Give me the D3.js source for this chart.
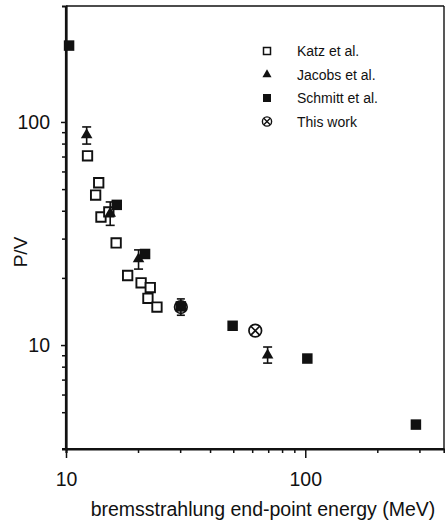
<!DOCTYPE html>
<html>
<head>
<meta charset="utf-8">
<script src="https://cdn.jsdelivr.net/npm/d3@7"></script>
<style>
  html, body { margin: 0; padding: 0; background: #fff; }
  svg { display: block; }
  text { font-family: "Liberation Sans", Arial, Helvetica, sans-serif; fill: #111; }
</style>
</head>
<body>
<svg id="chart" width="445" height="524"></svg>
<script>
// P/V ratio versus bremsstrahlung end-point energy (MeV)
const katzE   = [12.3, 13.7, 13.3, 14.0, 15.1, 16.2, 18.1, 20.6, 22.5, 22.0, 24.0];
const katzPV  = [70.5, 53.4, 47.0, 37.5, 39.5, 28.7, 20.5, 19.0, 18.1, 16.2, 14.8];

const jacobsE   = [12.2, 15.3, 20.1, 69.6];
const jacobsPV  = [87.4, 38.9, 24.3, 9.0];
const jacobsLo  = [79.6, 34.4, 21.9, 8.3];
const jacobsHi  = [95.0, 43.8, 26.7, 9.8];

const schmittE  = [10.3, 16.3, 21.4, 30.2, 49.7, 102, 290];
const schmittPV = [220, 42.5, 25.6, 14.9, 12.2, 8.7, 4.4];

const thisE   = [30.2, 61.8];
const thisPV  = [14.8, 11.6];
const thisLo  = [13.6, 11.6];
const thisHi  = [16.1, 11.6];

const legendLabels = ["Katz et al.", "Jacobs et al.", "Schmitt et al.", "This work"];
const xTickLabels = [10, 100];
const yTickLabels = [10, 100];
const xMinorTicks = [20, 30, 40, 50, 60, 70, 80, 90, 200, 300];
const yMinorTicks = [5, 6, 7, 8, 9, 20, 30, 40, 50, 60, 70, 80, 90];

const svg = d3.select("#chart");
const L = 66, R = 444, T = 6, B = 449;

const x = d3.scaleLog().domain([10, 380]).range([L, R]);
const y = d3.scaleLog().domain([3.42, 331]).range([B, T]);

// frame: top and right edges
svg.append("line").attr("x1", L).attr("x2", R).attr("y1", T).attr("y2", T)
  .attr("stroke", "#111").attr("stroke-width", 1.6);
svg.append("line").attr("x1", R).attr("x2", R).attr("y1", T).attr("y2", B)
  .attr("stroke", "#111").attr("stroke-width", 1.4);

const xAxisMinor = d3.axisBottom(x).tickValues(xMinorTicks).tickSize(4).tickFormat("");
const xAxisMajor = d3.axisBottom(x).tickValues(xTickLabels).tickSize(9).tickPadding(14)
  .tickFormat(d3.format("d"));
const yAxisMinor = d3.axisLeft(y).tickValues(yMinorTicks).tickSize(4).tickFormat("");
const yAxisMajor = d3.axisLeft(y).tickValues(yTickLabels).tickSize(5).tickPadding(11)
  .tickFormat(d3.format("d"));

function styleAxis(g) {
  g.attr("font-size", null).attr("font-family", null);
  g.select(".domain").attr("stroke", "#111").attr("stroke-width", 2.2);
  g.selectAll(".tick line").attr("stroke", "#111").attr("stroke-width", 1.5);
  g.selectAll(".tick text").attr("font-size", 19.5).style("font-size", "19.5px").attr("fill", "#111");
}

const gx1 = svg.append("g").attr("transform", `translate(0,${B})`).call(xAxisMinor);
const gx2 = svg.append("g").attr("transform", `translate(0,${B})`).call(xAxisMajor);
const gy1 = svg.append("g").attr("transform", `translate(${L},0)`).call(yAxisMinor);
const gy2 = svg.append("g").attr("transform", `translate(${L},0)`).call(yAxisMajor);
[gx1, gx2, gy1, gy2].forEach(styleAxis);
gx2.select(".domain").attr("d", `M${L - 4},0H${R}`);
gy2.select(".domain").attr("d", `M0,${T}V${B}`);

// axis titles
svg.append("text")
  .attr("x", (90 + 436) / 2).attr("y", 516)
  .attr("text-anchor", "middle")
  .attr("font-size", 19.5).style("font-size", "19.5px")
  .text("bremsstrahlung end-point energy (MeV)");

svg.append("text")
  .attr("transform", "translate(27,252) rotate(-90)")
  .attr("text-anchor", "middle")
  .attr("font-size", 19).style("font-size", "19px")
  .text("P/V");

const plot = svg.append("g");

// error bars
function errorBars(E, lo, hi, cap) {
  const g = plot.append("g").attr("stroke", "#111").attr("stroke-width", 1.6);
  E.forEach((e, i) => {
    if (hi[i] === lo[i]) return;
    const cx = x(e);
    g.append("line").attr("x1", cx).attr("x2", cx).attr("y1", y(lo[i])).attr("y2", y(hi[i]));
    g.append("line").attr("x1", cx - cap).attr("x2", cx + cap).attr("y1", y(lo[i])).attr("y2", y(lo[i]));
    g.append("line").attr("x1", cx - cap).attr("x2", cx + cap).attr("y1", y(hi[i])).attr("y2", y(hi[i]));
  });
}

// Katz: open squares
plot.append("g").selectAll("path").data(d3.zip(katzE, katzPV)).join("path")
  .attr("transform", d => `translate(${x(d[0])},${y(d[1])})`)
  .attr("d", d3.symbol(d3.symbolSquare, 88)())
  .attr("fill", "#fff").attr("stroke", "#111").attr("stroke-width", 1.9);

// Jacobs: filled triangles with error bars
errorBars(jacobsE, jacobsLo, jacobsHi, 4.5);
plot.append("g").selectAll("path").data(d3.zip(jacobsE, jacobsPV)).join("path")
  .attr("transform", d => `translate(${x(d[0])},${y(d[1])})`)
  .attr("d", d3.symbol(d3.symbolTriangle, 58)())
  .attr("fill", "#111");

// Schmitt: filled squares
plot.append("g").selectAll("path").data(d3.zip(schmittE, schmittPV)).join("path")
  .attr("transform", d => `translate(${x(d[0])},${y(d[1])})`)
  .attr("d", d3.symbol(d3.symbolSquare, 110)())
  .attr("fill", "#111");

// This work: crossed circles
errorBars(thisE, thisLo, thisHi, 4);
const tw = plot.append("g").selectAll("g").data(d3.zip(thisE, thisPV)).join("g")
  .attr("transform", d => `translate(${x(d[0])},${y(d[1])})`)
  .attr("stroke", "#111").attr("stroke-width", 1.7).attr("fill", "none");
tw.append("circle").attr("r", 6.3);
tw.append("path").attr("d", "M-4.4,-4.4L4.4,4.4M4.4,-4.4L-4.4,4.4");

// legend
const ly = d3.scalePoint().domain(legendLabels).range([51, 121.5]);
const leg = svg.append("g");
const items = leg.selectAll("g").data(legendLabels).join("g")
  .attr("transform", d => `translate(267,${ly(d)})`);
items.append("text").attr("x", 30).attr("dy", "0.36em")
  .attr("font-size", 14).style("font-size", "14px").text(d => d);

items.filter((d, i) => i === 0).append("path")
  .attr("d", d3.symbol(d3.symbolSquare, 49)())
  .attr("fill", "#fff").attr("stroke", "#111").attr("stroke-width", 1.5);
items.filter((d, i) => i === 1).append("path")
  .attr("d", d3.symbol(d3.symbolTriangle, 36)())
  .attr("fill", "#111");
items.filter((d, i) => i === 2).append("path")
  .attr("d", d3.symbol(d3.symbolSquare, 64)())
  .attr("fill", "#111");
const lc = items.filter((d, i) => i === 3).append("g")
  .attr("stroke", "#111").attr("stroke-width", 1.4).attr("fill", "none");
lc.append("circle").attr("r", 4.6);
lc.append("path").attr("d", "M-3.2,-3.2L3.2,3.2M3.2,-3.2L-3.2,3.2");
</script>
</body>
</html>
